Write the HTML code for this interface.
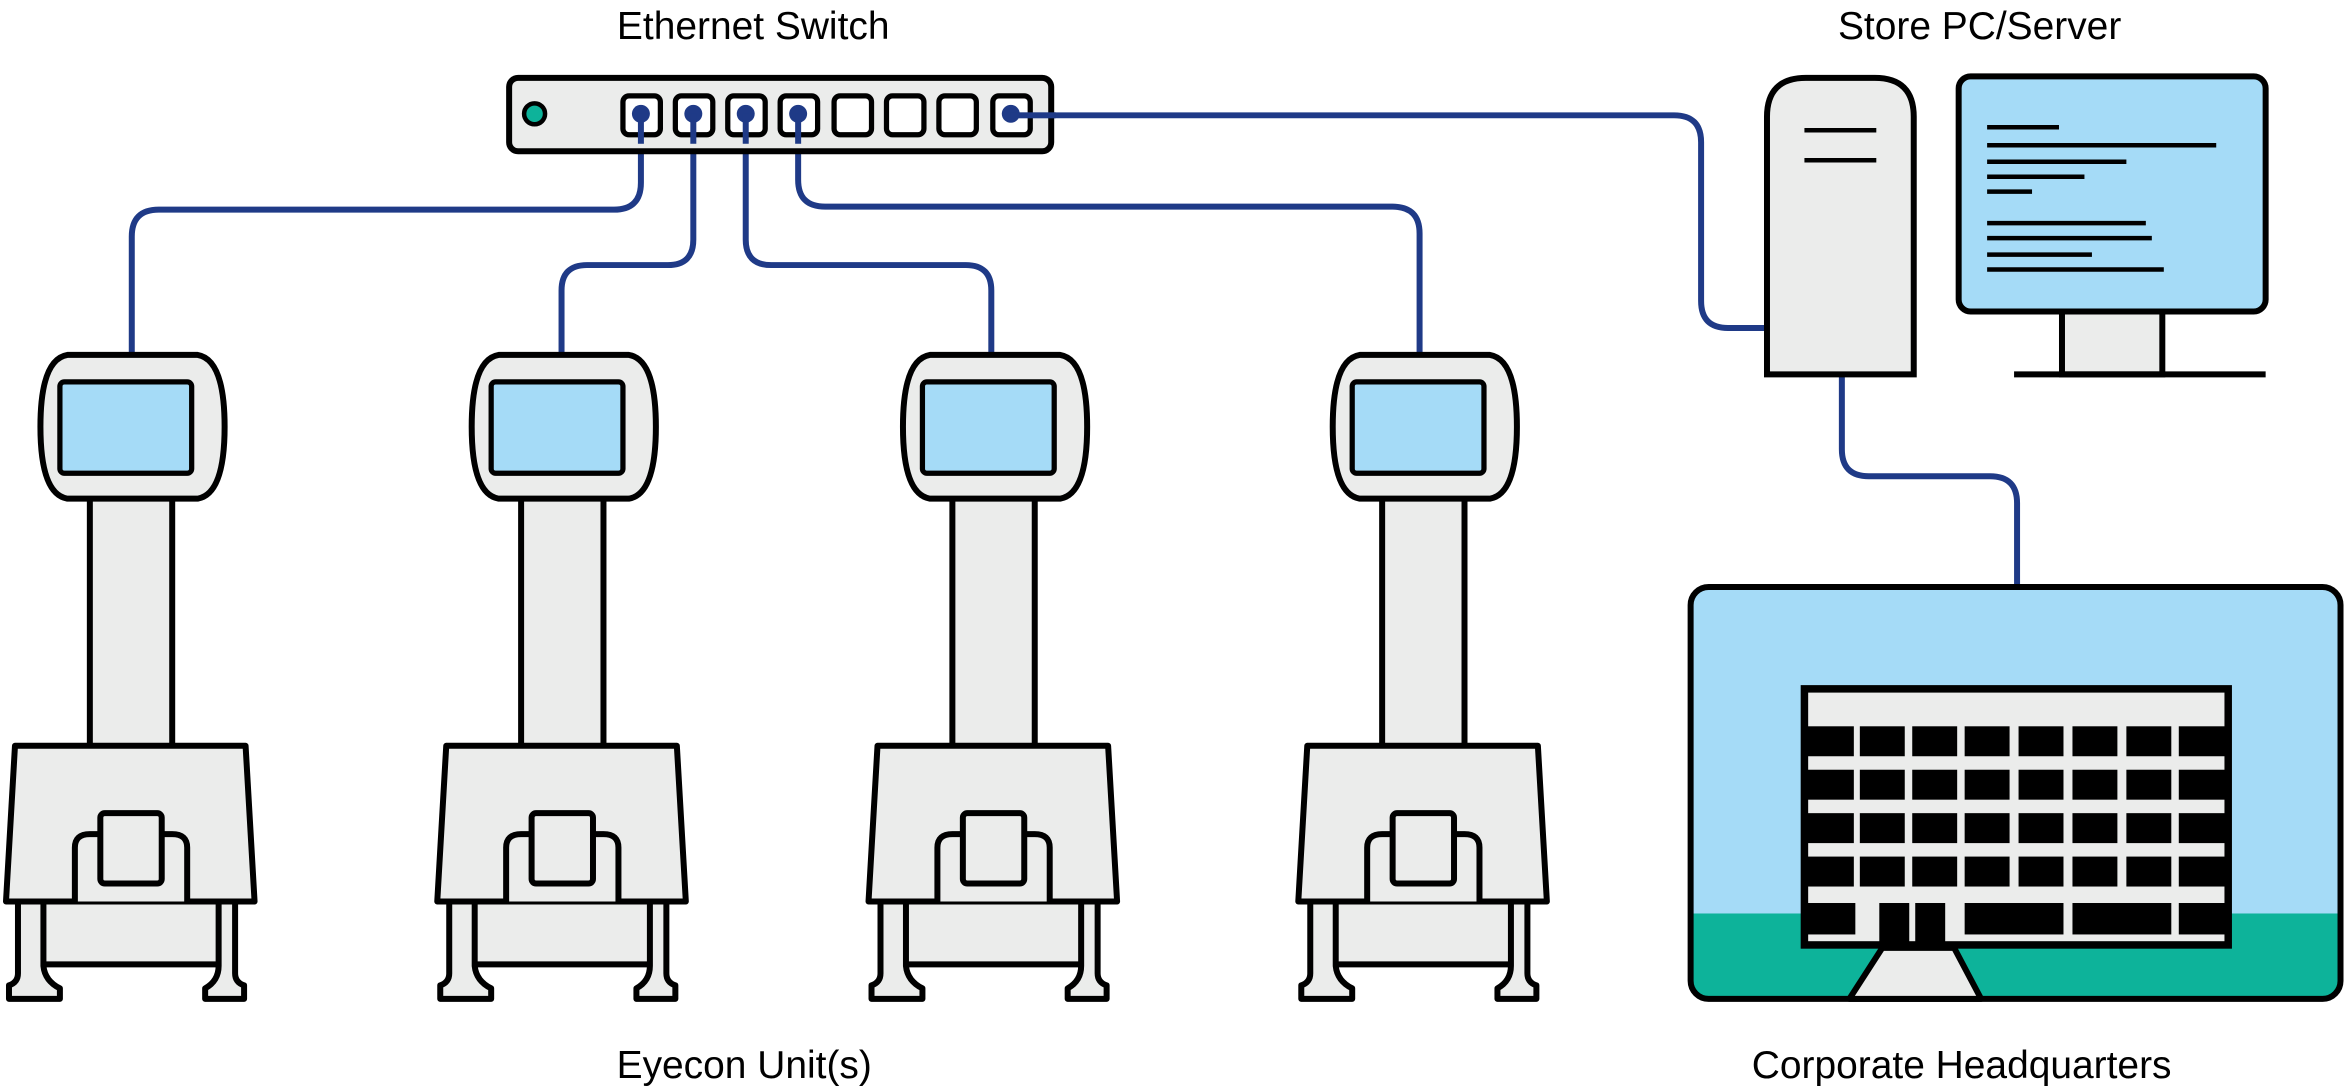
<!DOCTYPE html>
<html><head><meta charset="utf-8"><style>html,body{margin:0;padding:0;background:#fff}svg{display:block}</style></head>
<body>
<svg width="2348" height="1089" viewBox="0 0 1568 727.2" preserveAspectRatio="none" xmlns="http://www.w3.org/2000/svg">
<defs>
<g id="unit" stroke="#000" stroke-width="4" stroke-linejoin="round" fill="#ebeceb">
  <rect x="25" y="600" width="125" height="44"/>
  <path d="M12,600 V650 Q12,656 6,658 V667 H40 V660 Q30,655 29,645 V600 Z"/>
  <path d="M157,600 V650 Q157,656 163,658 V667 H137 V660 Q146,655 146,645 V600 Z"/>
  <rect x="60" y="330" width="55" height="170"/>
  <path d="M10,498 H164 L170,602 H4 Z"/>
  <path d="M50,602 V566 Q50,557 60,557 H115 Q125,557 125,566 V602" />
  <rect x="67" y="543" width="41" height="47" rx="3"/>
  <path d="M45,237 H132 Q150,240 150,285 Q150,330 132,333 H45 Q27,330 27,285 Q27,240 45,237 Z"/>
  <rect x="40" y="255" width="88" height="61" rx="3" fill="#a5dbf7" stroke-width="3.5"/>
</g>
</defs>
<g fill="none" stroke="#1f3a87" stroke-width="4">
  <path d="M428,77 V122 Q428,140 410,140 H106 Q88,140 88,158 V238"/>
  <path d="M463,77 V160 Q463,177 446,177 H392 Q375,177 375,194 V238"/>
  <path d="M498,77 V160 Q498,177 515,177 H645 Q662,177 662,194 V238"/>
  <path d="M533,77 V120 Q533,138 551,138 H930 Q948,138 948,156 V238"/>
  <path d="M674,77 H1118 Q1136,77 1136,95 V201 Q1136,219 1154,219 H1182"/>
  <path d="M1230,250 V300 Q1230,318 1248,318 H1329 Q1347,318 1347,336 V393"/>
</g>
<rect x="340" y="52" width="362" height="49" rx="6" fill="#ebeceb" stroke="#000" stroke-width="4"/>
<circle cx="357" cy="76" r="7" fill="#0db39a" stroke="#000" stroke-width="3"/>
<g fill="#fff" stroke="#000" stroke-width="3.5">
<rect x="416" y="64" width="25" height="26" rx="4"/><rect x="451" y="64" width="25" height="26" rx="4"/>
<rect x="486" y="64" width="25" height="26" rx="4"/><rect x="521" y="64" width="25" height="26" rx="4"/>
<rect x="557" y="64" width="25" height="26" rx="4"/><rect x="592" y="64" width="25" height="26" rx="4"/>
<rect x="627" y="64" width="25" height="26" rx="4"/><rect x="663" y="64" width="25" height="26" rx="4"/>
</g>
<g fill="#1f3a87"><circle cx="428" cy="76" r="6"/><circle cx="463" cy="76" r="6"/><circle cx="498" cy="76" r="6"/><circle cx="533" cy="76" r="6"/><circle cx="675" cy="76" r="6"/></g>
<g fill="#1f3a87"><rect x="426" y="76" width="4" height="20"/><rect x="461" y="76" width="4" height="20"/><rect x="496" y="76" width="4" height="20"/><rect x="531" y="76" width="4" height="20"/><rect x="675" y="75" width="30" height="4"/></g>
<use href="#unit"/><use href="#unit" x="288"/><use href="#unit" x="576"/><use href="#unit" x="863"/>
<path d="M1180,250 V78 Q1180,52 1206,52 H1252 Q1278,52 1278,78 V250 Z" fill="#ebeceb" stroke="#000" stroke-width="4"/>
<g stroke="#000" stroke-width="3"><line x1="1205" y1="87" x2="1253" y2="87"/><line x1="1205" y1="107" x2="1253" y2="107"/></g>
<rect x="1377" y="206" width="67" height="44" fill="#ebeceb" stroke="#000" stroke-width="4"/>
<line x1="1345" y1="250" x2="1513" y2="250" stroke="#000" stroke-width="4"/>
<rect x="1308" y="51" width="205" height="157" rx="8" fill="#a5dbf7" stroke="#000" stroke-width="4"/>
<g stroke="#000" stroke-width="3">
<line x1="1327" y1="85" x2="1375" y2="85"/><line x1="1327" y1="97" x2="1480" y2="97"/><line x1="1327" y1="108" x2="1420" y2="108"/>
<line x1="1327" y1="118" x2="1392" y2="118"/><line x1="1327" y1="128" x2="1357" y2="128"/><line x1="1327" y1="149" x2="1433" y2="149"/>
<line x1="1327" y1="159" x2="1437" y2="159"/><line x1="1327" y1="170" x2="1397" y2="170"/><line x1="1327" y1="180" x2="1445" y2="180"/>
</g>
<clipPath id="hq"><rect x="1129" y="392" width="434" height="275" rx="12"/></clipPath>
<g clip-path="url(#hq)"><rect x="1129" y="392" width="434" height="275" fill="#a5dbf7"/><rect x="1129" y="610" width="434" height="60" fill="#0db39a"/></g>
<rect x="1129" y="392" width="434" height="275" rx="12" fill="none" stroke="#000" stroke-width="4"/>
<path d="M1257,633 H1305 L1323,667 H1235 Z" fill="#ebeceb" stroke="#000" stroke-width="4" stroke-linejoin="round"/>
<rect x="1205" y="460" width="283" height="171" fill="#ebeceb" stroke="#000" stroke-width="5"/>
<g fill="#000">
<rect x="1207" y="485" width="31" height="20"/><rect x="1242" y="485" width="30" height="20"/><rect x="1277" y="485" width="30" height="20"/><rect x="1312" y="485" width="30" height="20"/><rect x="1348" y="485" width="30" height="20"/><rect x="1384" y="485" width="30" height="20"/><rect x="1420" y="485" width="30" height="20"/><rect x="1455" y="485" width="31" height="20"/>
<rect x="1207" y="514" width="31" height="20"/><rect x="1242" y="514" width="30" height="20"/><rect x="1277" y="514" width="30" height="20"/><rect x="1312" y="514" width="30" height="20"/><rect x="1348" y="514" width="30" height="20"/><rect x="1384" y="514" width="30" height="20"/><rect x="1420" y="514" width="30" height="20"/><rect x="1455" y="514" width="31" height="20"/>
<rect x="1207" y="543" width="31" height="20"/><rect x="1242" y="543" width="30" height="20"/><rect x="1277" y="543" width="30" height="20"/><rect x="1312" y="543" width="30" height="20"/><rect x="1348" y="543" width="30" height="20"/><rect x="1384" y="543" width="30" height="20"/><rect x="1420" y="543" width="30" height="20"/><rect x="1455" y="543" width="31" height="20"/>
<rect x="1207" y="572" width="31" height="20"/><rect x="1242" y="572" width="30" height="20"/><rect x="1277" y="572" width="30" height="20"/><rect x="1312" y="572" width="30" height="20"/><rect x="1348" y="572" width="30" height="20"/><rect x="1384" y="572" width="30" height="20"/><rect x="1420" y="572" width="30" height="20"/><rect x="1455" y="572" width="31" height="20"/>
<rect x="1207" y="603" width="32" height="21"/><rect x="1255" y="603" width="20" height="30"/><rect x="1279" y="603" width="20" height="30"/><rect x="1312" y="603" width="66" height="21"/><rect x="1384" y="603" width="66" height="21"/><rect x="1455" y="603" width="31" height="21"/>
</g>
<g font-family="Liberation Sans, sans-serif" font-size="26" fill="#000" text-anchor="middle">
<text x="503" y="26">Ethernet Switch</text>
<text x="1322" y="26">Store PC/Server</text>
<text x="497" y="720">Eyecon Unit(s)</text>
<text x="1310" y="720">Corporate Headquarters</text>
</g>
</svg>
</body></html>
